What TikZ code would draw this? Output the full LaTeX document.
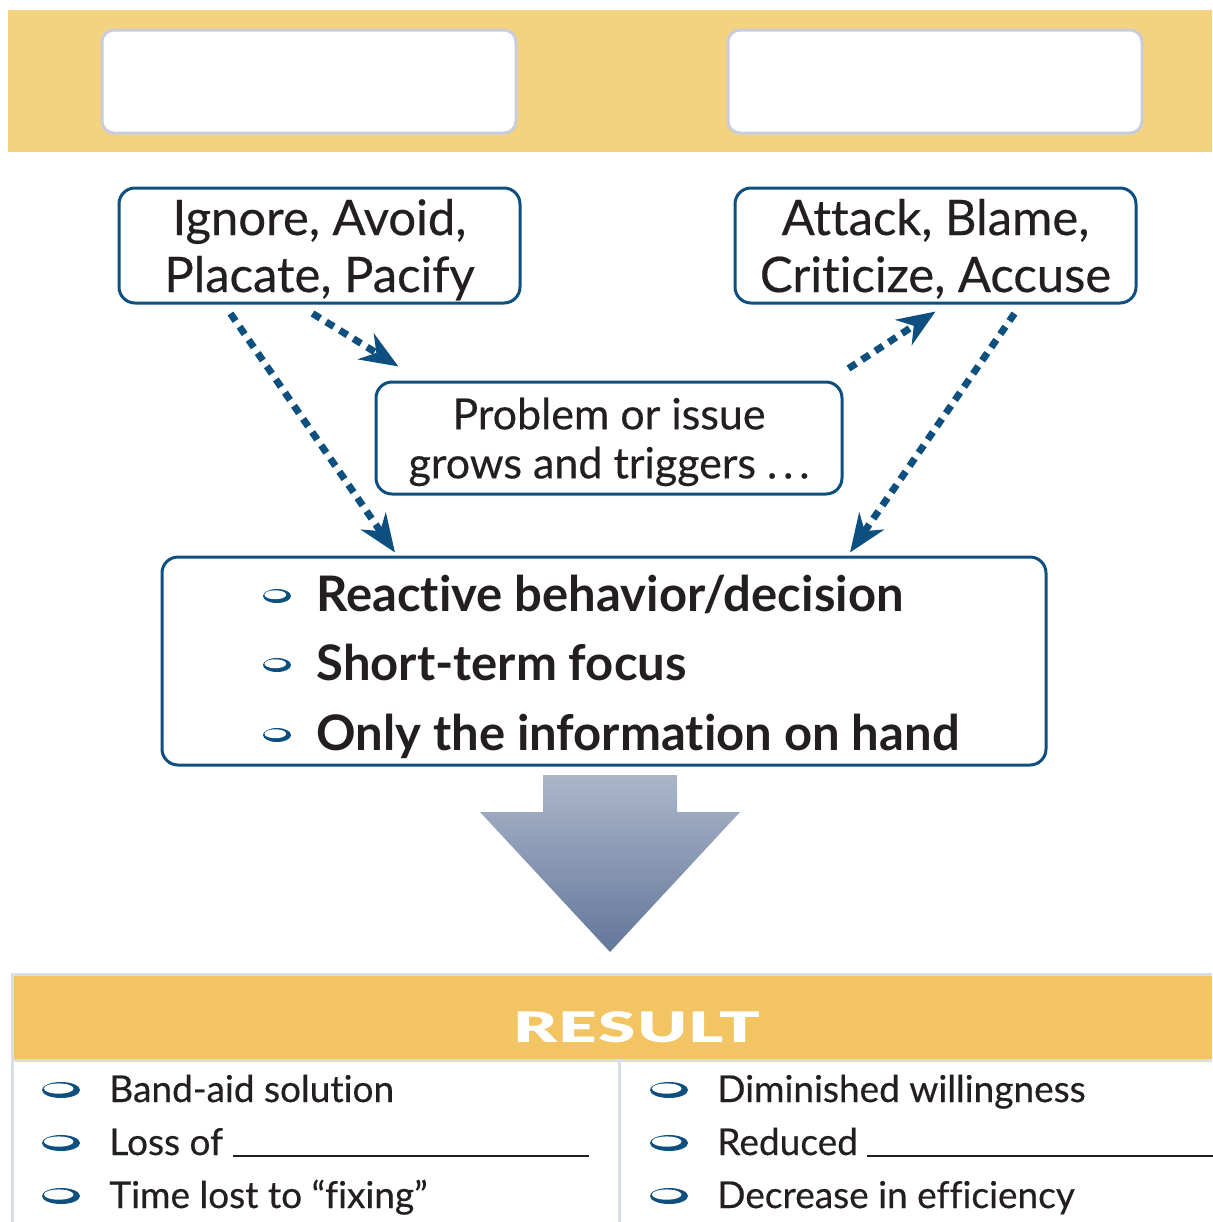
\documentclass[tikz,border=0pt]{standalone}
\usepackage{fontspec}
\setmainfont{Lato}[Ligatures=NoCommon, UprightFeatures={FakeBold=0.4}]
\newfontfamily\headfont{Lato Black}[Ligatures=NoCommon]
\usetikzlibrary{arrows.meta,calc}

\definecolor{bandyellow}{HTML}{F3D37F}
\definecolor{headyellow}{HTML}{F2C462}
\definecolor{boxblue}{HTML}{0D4F7E}
\definecolor{paleedge}{HTML}{C9CCDC}
\definecolor{gridgrey}{HTML}{D9DDE6}
\definecolor{inkblack}{HTML}{231F20}
\definecolor{arrowtop}{HTML}{ABB6CA}
\definecolor{arrowbot}{HTML}{63779A}

\tikzset{
  blank/.style={draw=paleedge, line width=1.5pt, fill=white, rounded corners=6pt,
    minimum width=207pt, minimum height=51.5pt, inner sep=0pt},
  choice/.style={draw=boxblue, line width=1.5pt, fill=white, rounded corners=8pt,
    minimum width=200.5pt, minimum height=57.5pt, inner sep=0pt, align=center,
    text depth=0pt, text=inkblack, font=\fontsize{24.5}{28.5}\selectfont},
  trigger/.style={choice, minimum width=233pt, minimum height=56pt,
    font=\fontsize{21.5}{24.5}\selectfont},
  outcome/.style={draw=boxblue, line width=1.5pt, fill=white, rounded corners=8pt,
    minimum width=442pt, minimum height=104pt, inner sep=0pt},
  bigitem/.style={anchor=base west, inner sep=0pt, text=inkblack,
    font=\fontsize{24.5}{28}\selectfont\bfseries},
  item/.style={anchor=base west, inner sep=0pt, text=inkblack,
    font=\fontsize{18.5}{21}\selectfont},
  flow/.style={boxblue, line width=3.5pt, dash pattern=on 4.5pt off 3.5pt,
    -{Stealth[length=19pt,width=15pt,inset=6pt]}},
}

% ring bullet: centre, x radius, y radius
\newcommand{\ringbullet}[3]{%
  \fill[boxblue] (#1) ellipse [x radius=#2, y radius=#3];
  \fill[white] ($(#1)+(-0.12*#2,-0.18*#3)$) ellipse [x radius=0.78*#2, y radius=0.64*#3];
}

\begin{document}
\begin{tikzpicture}[x=0.5pt, y=-0.5pt]
  \useasboundingbox (0,0) rectangle (1212,1222);

  % top band with two empty boxes
  \fill[bandyellow] (8,10) rectangle (1212,152);
  \node[blank] (blankL) at (309,81.5) {};
  \node[blank] (blankR) at (935,81.5) {};

  % the two ways of responding
  \node[choice] (ign) at (319.5,245.5) {Ignore, Avoid,\\Placate, Pacify};
  \node[choice] (att) at (935.5,245.5) {Attack, Blame,\\Criticize, Accuse};
  \node[trigger] (prob) at (609,438) {Problem or issue\\grows and triggers .\kern3pt.\kern3pt.};
  \node[outcome] (react) at (604,661) {};

  \draw[flow] ($(ign.south)+(-89,9)$) -- ($(react.north)+(-209,-3)$);
  \draw[flow] ($(ign.south)+(-7,9)$) -- ($(prob.north west)+(24,-14)$);
  \draw[flow] ($(prob.north east)+(5,-12)$) -- ($(att.south)+(0,7)$);
  \draw[flow] ($(att.south)+(79,9)$) -- ($(react.north)+(246,-3)$);

  % reactive list
  \node[bigitem] (re1) at (316,611) {Reactive behavior/decision};
  \node[bigitem] (re2) at (316,680) {Short-term focus};
  \node[bigitem] (re3) at (316,750) {Only the information on hand};
  \foreach \yy in {596,665,735}
    {\ringbullet{277,\yy}{14}{7}}

  % big down arrow
  \shade[top color=arrowtop, bottom color=arrowbot]
    (543,775) -- (677,775) -- (677,812) -- (740,812) -- (610,952)
    -- (480,812) -- (543,812) -- cycle;

  % result table
  \fill[headyellow] (12,975) rectangle (1212,1059);
  \draw[gridgrey, line width=1.5pt] (1212,974) -- (12,974) -- (12,1222);
  \draw[gridgrey, line width=1.5pt] (12,1060) -- (1212,1060);
  \draw[gridgrey, line width=1.5pt] (619,1061) -- (619,1222);
  \node[text=white, inner sep=0pt, anchor=base, font=\fontsize{21}{21}\selectfont\headfont]
    (res) at (637,1042) {\scalebox{1.6}[1]{\addfontfeature{LetterSpace=2}RESULT}};

  \node[item] (l1) at (109,1102) {Band-aid solution};
  \node[item] (l2) at (109,1155) {Loss of \rule[-1pt]{178pt}{0.9pt}};
  \node[item] (l3) at (109,1208) {Time lost to “fixing”};
  \node[item] (r1) at (717,1102) {Diminished willingness};
  \node[item] (r2) at (717,1155) {Reduced \rule[-1pt]{175pt}{0.9pt}};
  \node[item] (r3) at (717,1208) {Decrease in efficiency};
  \foreach \yy in {1090,1143,1196}
    {\ringbullet{61,\yy}{19}{8}
     \ringbullet{669,\yy}{19}{8}}
\end{tikzpicture}
\end{document}
